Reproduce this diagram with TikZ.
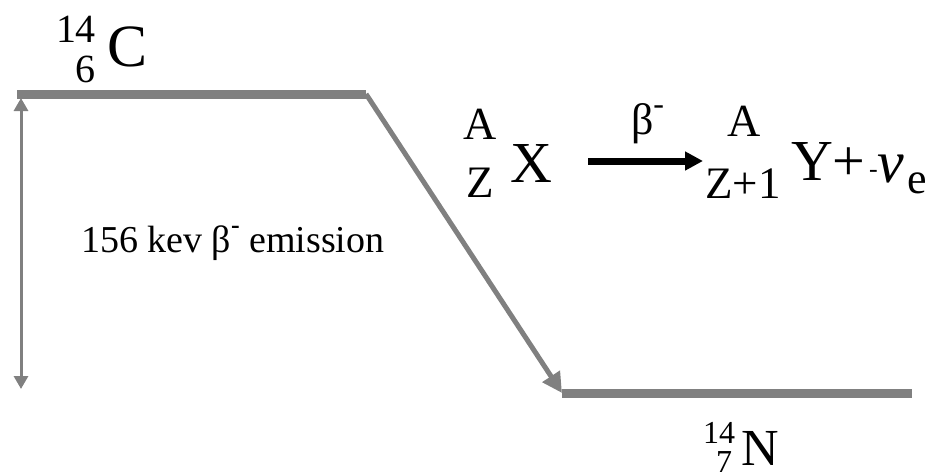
\documentclass[tikz,border=0pt]{standalone}
\usepackage{fontspec}
\setmainfont{Liberation Serif}
\usetikzlibrary{arrows.meta}
\definecolor{lvl}{HTML}{808080}
\newcommand{\fs}[1]{\fontsize{#1}{#1}\selectfont}
\tikzset{
  txt/.style={inner sep=0pt, outer sep=0pt},
  level/.style={draw=lvl, line width=9pt},
  trans/.style={draw=lvl, line width=5pt, -{Triangle[length=20pt,width=20pt]}},
  gap/.style={draw=lvl, line width=3pt, {Triangle[length=13pt,width=14pt]}-{Triangle[length=13pt,width=14pt]}},
  react/.style={draw=black, line width=7pt, -{Triangle[length=18pt,width=18pt]}}
}
\begin{document}
\begin{tikzpicture}[x=1pt,y=-1pt]
\useasboundingbox (0,0) rectangle (943,472);
% levels
\coordinate (t1) at (17,94);
\coordinate (t2) at (366,94);
\coordinate (b1) at (562,393);
\coordinate (b2) at (912,393);
\draw[level] (t1) -- (t2);
\draw[level] (b1) -- (b2);
\draw[trans] (t2) -- (b1);
\coordinate (g1) at (21,98);
\coordinate (g2) at (21,389);
\draw[gap] (g1) -- (g2);
% 14 6 C
\node[txt, anchor=base east] (c14) at (96,42) {\fs{40}14};
\node[txt, anchor=base east] (c6) at (95,82) {\fs{40}6};
\node[txt, anchor=base west] (cC) at (107,66) {\fs{60}C};
% emission label
\node[txt, anchor=base west] (emis) at (81,252) {\fs{38}156 kev β\raisebox{0.5em}{\fs{26}\textbf{-}} emission};
% reaction
\node[txt, anchor=base] (a1) at (480.5,139) {\fs{46}A};
\node[txt, anchor=base] (z1) at (480.5,197) {\fs{45}Z};
\node[txt, anchor=base west] (x1) at (510,182) {\fs{58}X};
\coordinate (r1) at (588,161);
\coordinate (r2) at (703,161);
\draw[react] (r1) -- (r2);
\node[txt, anchor=base west] (beta) at (631,134) {\fs{44}β\raisebox{0.45em}{\fs{32}-}};
\node[txt, anchor=base] (a2) at (744,136) {\fs{46}A};
\node[txt, anchor=base] (z2) at (743,198) {\fs{45}Z+1};
\node[txt, anchor=base west] (y1) at (791,180) {\fs{58}Y+};
\node[txt, anchor=base west] (mn) at (869,177) {\fs{26}-};
\node[txt, anchor=base west] (nu) at (877,182) {\fs{60}\itshape ν};
\node[txt, anchor=base west] (e1) at (907,193) {\fs{44}e};
% 14 7 N
\node[txt, anchor=base east] (n14) at (735,443) {\fs{32}14};
\node[txt, anchor=base east] (n7) at (732,472) {\fs{32}7};
\node[txt, anchor=base west] (nN) at (741,465) {\fs{52}N};
\end{tikzpicture}
\end{document}
